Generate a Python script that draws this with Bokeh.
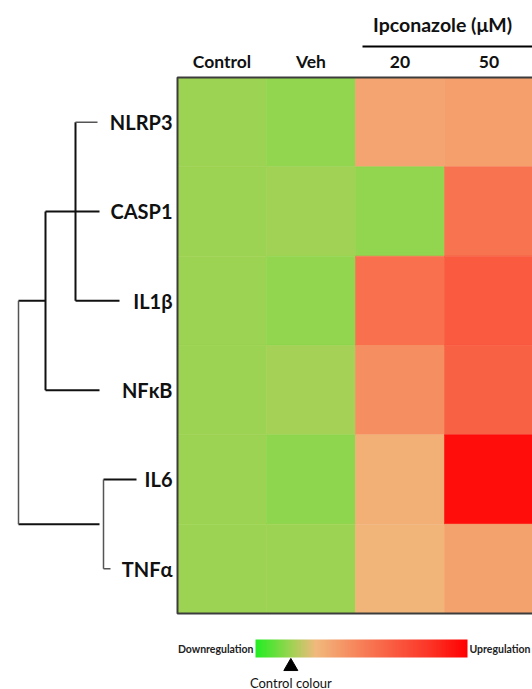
import numpy as np
from bokeh.plotting import figure
from bokeh.models import Range1d, LinearColorMapper, ColorBar, FixedTicker, ColumnDataSource
from bokeh.core.properties import value
from bokeh.embed import file_html
from bokeh.resources import INLINE

# ---------------- data ----------------
genes = ["NLRP3", "CASP1", "IL1β", "NFκB", "IL6", "TNFα"]
columns = ["Control", "Veh", "20", "50"]
group_label = "Ipconazole (μM)"
# relative expression (control colour = 0)
control = [0.0, 0.0, 0.0, 0.0, 0.0, 0.0]
veh = [-0.05, 0.02, -0.05, 0.03, -0.06, 0.0]
ipc20 = [0.58, -0.05, 1.19, 0.82, 0.45, 0.40]
ipc50 = [0.64, 1.16, 1.48, 1.39, 2.36, 0.61]
scale_low, scale_high = -0.5, 2.5
scale_ticks = [0.0, 1.0, 2.0]
low_label, high_label, control_label = "Downregulation", "Upregulation", "Control colour"

# ---------------- colour scale ----------------
anchor_v = [-0.5, 0.0, 0.35, 1.0, 2.0, 2.5]
anchor_rgb = [(34, 238, 34), (158, 211, 83), (241, 185, 125), (247, 127, 88), (252, 50, 37), (255, 0, 0)]
vs = np.linspace(scale_low, scale_high, 256)
palette = []
for v in vs:
    r = np.interp(v, anchor_v, [c[0] for c in anchor_rgb])
    g = np.interp(v, anchor_v, [c[1] for c in anchor_rgb])
    b = np.interp(v, anchor_v, [c[2] for c in anchor_rgb])
    palette.append("#%02x%02x%02x" % (int(round(r)), int(round(g)), int(round(b))))
mapper = LinearColorMapper(palette=palette, low=scale_low, high=scale_high)

# ---------------- geometry helpers (page pixel -> data units) ----------------
W, H = 532, 689
X0, CW = 177.0, 89.0       # heatmap left edge / column width (px)
Y0, RH = 77.0, 89.33       # heatmap top edge / row height (px)
def X(px): return (px - X0) / CW
def Y(py): return (py - Y0) / RH

p = figure(width=W, height=H, output_backend="svg", toolbar_location=None,
           x_range=Range1d(X(0), X(W)), y_range=Range1d(Y(H), Y(0)),
           x_axis_type=None, y_axis_type=None, min_border=0,
           outline_line_color=None, background_fill_color="white")
p.xgrid.visible = False
p.ygrid.visible = False

# ---------------- heatmap ----------------
series = [control, veh, ipc20, ipc50]
xs, ys, vals = [], [], []
for ci, col in enumerate(series):
    for ri, v in enumerate(col):
        xs.append(ci + 0.5)
        ys.append(ri + 0.5)
        vals.append(v)
src = ColumnDataSource(dict(x=xs, y=ys, v=vals))
p.rect(x="x", y="y", width=1, height=1, source=src,
       fill_color={"field": "v", "transform": mapper},
       line_color={"field": "v", "transform": mapper}, line_width=0.6)
nrows = len(genes)
p.line([len(columns) + 1, 0, 0, len(columns) + 1], [0, 0, nrows, nrows],
       line_color="#3c3c3c", line_width=2)

# ---------------- column headers ----------------
font = value("Lato")
p.text(x=[i + 0.5 for i in range(len(columns))], y=[Y(61)] * len(columns), text=columns,
       text_font=font, text_font_style="bold", text_font_size="17.5px",
       text_align="center", text_baseline="middle", text_color="#111111")
p.text(x=[X(442)], y=[Y(24)], text=[group_label], text_font=font, text_font_style="bold",
       text_font_size="19.5px", text_align="center", text_baseline="middle", text_color="#111111")
p.segment(x0=[X(362)], y0=[Y(46)], x1=[X(560)], y1=[Y(46)], line_color="black", line_width=2)

# ---------------- gene labels ----------------
p.text(x=[X(172)] * nrows, y=[r + 0.5 for r in range(nrows)], text=genes,
       text_font=font, text_font_style="bold", text_font_size="20px",
       text_align="right", text_baseline="middle", text_color="#111111")

# ---------------- dendrogram ----------------
# (x0 px, row0, x1 px, row1, dark)
dendro = [
    (75, 0.5, 97, 0.5, False),
    (75, 0.5, 75, 2.5, True),
    (75, 2.5, 119, 2.5, True),
    (45, 1.5, 99, 1.5, True),
    (45, 1.5, 45, 3.5, True),
    (45, 3.5, 99, 3.5, True),
    (18, 2.5, 45, 2.5, True),
    (18, 2.5, 18, 5.0, False),
    (18, 5.0, 99, 5.0, True),
    (103, 4.5, 103, 5.5, False),
    (103, 4.5, 136, 4.5, True),
    (103, 5.5, 110, 5.5, False),
]
for dark in (True, False):
    seg = [d for d in dendro if d[4] == dark]
    p.segment(x0=[X(d[0]) for d in seg], y0=[d[1] for d in seg],
              x1=[X(d[2]) for d in seg], y1=[d[3] for d in seg],
              line_color="#111111" if dark else "#555555",
              line_width=2 if dark else 1.5)

# ---------------- colour bar ----------------
bar_l, bar_r, bar_t, bar_b = 255, 467, 639, 657
cb = ColorBar(color_mapper=mapper, orientation="horizontal",
              location=(bar_l, H - bar_b),
              width=bar_r - bar_l, height=bar_b - bar_t,
              padding=0, ticker=FixedTicker(ticks=[]), major_label_text_font_size="0px",
              major_tick_line_color=None, minor_tick_line_color=None,
              bar_line_color=None, border_line_color=None, background_fill_color=None,
              background_fill_alpha=0)
p.add_layout(cb, "center")

def bar_px(v):
    return bar_l + (v - scale_low) / (scale_high - scale_low) * (bar_r - bar_l)

tx = [X(bar_px(t)) for t in scale_ticks]
p.segment(x0=tx, y0=[Y(bar_t)] * 3, x1=tx, y1=[Y(bar_t + 3)] * 3, line_color="white", line_width=1.2)
p.segment(x0=tx, y0=[Y(bar_b - 3)] * 3, x1=tx, y1=[Y(bar_b)] * 3, line_color="white", line_width=1.2)
p.segment(x0=tx, y0=[Y(bar_t)] * 3, x1=tx, y1=[Y(bar_b)] * 3, line_color="white", line_width=0.6, line_alpha=0.5)

p.text(x=[X(bar_l - 2)], y=[Y(648)], text=[low_label], text_font=font, text_font_style="bold",
       text_font_size="10.5px", text_align="right", text_baseline="middle", text_color="#222222")
p.text(x=[X(bar_r + 2)], y=[Y(648)], text=[high_label], text_font=font, text_font_style="bold",
       text_font_size="10.5px", text_align="left", text_baseline="middle", text_color="#222222")
cx = X(bar_px(0.0))
p.scatter(x=[cx], y=[Y(666)], marker="triangle", size=14, fill_color="black", line_color="black")
p.text(x=[cx], y=[Y(682)], text=[control_label], text_font=font, text_font_style="normal",
       text_font_size="13px", text_align="center", text_baseline="middle", text_color="#111111")

open("out.html", "w").write(file_html(p, INLINE))
